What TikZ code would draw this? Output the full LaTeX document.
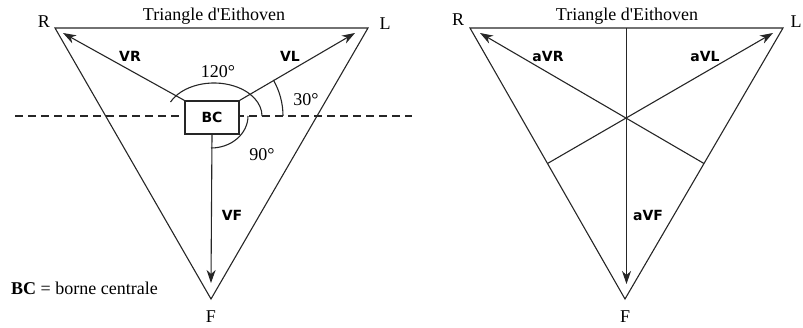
\documentclass[tikz,border=0pt]{standalone}
\usepackage{fontspec}
\setmainfont{Liberation Serif}
\newfontfamily\lblfont{DejaVu Sans}
\usetikzlibrary{arrows.meta}
\begin{document}
\begin{tikzpicture}[x=1pt,y=1pt,
  edge/.style={draw=black!85,line width=1.1pt,line join=miter},
  vec/.style={draw=black!85,line width=1.1pt,-{Stealth[length=13pt,width=9pt,inset=4pt]}},
  thin/.style={draw=black!85,line width=1.1pt},
  serif/.style={font=\fontsize{18}{20}\selectfont,inner sep=0pt},
  vlabel/.style={font=\lblfont\bfseries\fontsize{14}{16}\selectfont,inner sep=0pt},
  dashline/.style={draw=black!85,line width=1.1pt,dash pattern=on 8pt off 5pt}]
\useasboundingbox (0,0) rectangle (803,327);
% ---------- left triangle ----------
\coordinate (R) at (55,299);
\coordinate (L) at (368,299);
\coordinate (F) at (211,28);
\draw[edge] (R) -- (L) -- (F) -- cycle;
\node[serif] (Rlab) at (44,305) {R};
\node[serif] (Llab) at (385,303) {L};
\node[serif] (Flab) at (211,10) {F};
\node[serif] (title1) at (214,311) {Triangle d\textquotesingle Eithoven};
\coordinate (dl) at (15,211);
\coordinate (dr) at (412,211);
\draw[dashline] (dl) -- (dr);
% angle arcs
\draw[thin] (214,211) ++(155:48pt and 33pt) arc[start angle=155,end angle=0,x radius=48pt,y radius=33pt];
\draw[thin] (211,211) ++(0:37pt and 32pt) arc[start angle=0,end angle=-90,x radius=37pt,y radius=32pt];
\draw[thin] (211,211) ++(0:72pt) arc[start angle=0,end angle=30,radius=72pt];
% central terminal box
\node[draw=black!85,line width=1.1pt,fill=white,minimum width=54pt,minimum height=33pt,inner sep=0pt,
      font=\lblfont\bfseries\fontsize{14}{16}\selectfont] (bc) at (212,209.5) {BC};
\coordinate (vrtip) at (63,294);
\coordinate (vltip) at (355,294);
\coordinate (vftip) at (211,44);
\draw[vec] (bc.north west) -- (vrtip);
\draw[vec] (bc.north east) -- (vltip);
\draw[vec] (bc.south) -- (vftip);
\node[vlabel] (vrl) at (130,271) {VR};
\node[vlabel] (vll) at (290,271) {VL};
\node[vlabel] (vfl) at (232,112) {VF};
\node[serif] (a120) at (218,255) {120°};
\node[serif] (a30) at (306,227) {30°};
\node[serif] (a90) at (262,172) {90°};
\node[serif,anchor=west] (legend) at (11,39) {\textbf{BC} = borne centrale};
% ---------- right triangle ----------
\coordinate (R2) at (470,299);
\coordinate (L2) at (783,299);
\coordinate (F2) at (625,28);
\draw[edge] (R2) -- (L2) -- (F2) -- cycle;
\node[serif] (R2lab) at (458,307) {R};
\node[serif] (L2lab) at (796,305) {L};
\node[serif] (F2lab) at (625,10) {F};
\node[serif] (title2) at (627,311) {Triangle d\textquotesingle Eithoven};
\coordinate (mRL) at (626.5,299);
\coordinate (mRF) at (547.5,163.5);
\coordinate (mLF) at (704,163.5);
\coordinate (avrtip) at (480,294);
\coordinate (avltip) at (773,294);
\coordinate (avftip) at (626.5,43);
\draw[vec] (mLF) -- (avrtip);
\draw[vec] (mRF) -- (avltip);
\draw[vec] (mRL) -- (avftip);
\node[vlabel] (avrl) at (548,271) {aVR};
\node[vlabel] (avll) at (705,271) {aVL};
\node[vlabel] (avfl) at (648,112) {aVF};
\end{tikzpicture}
\end{document}
